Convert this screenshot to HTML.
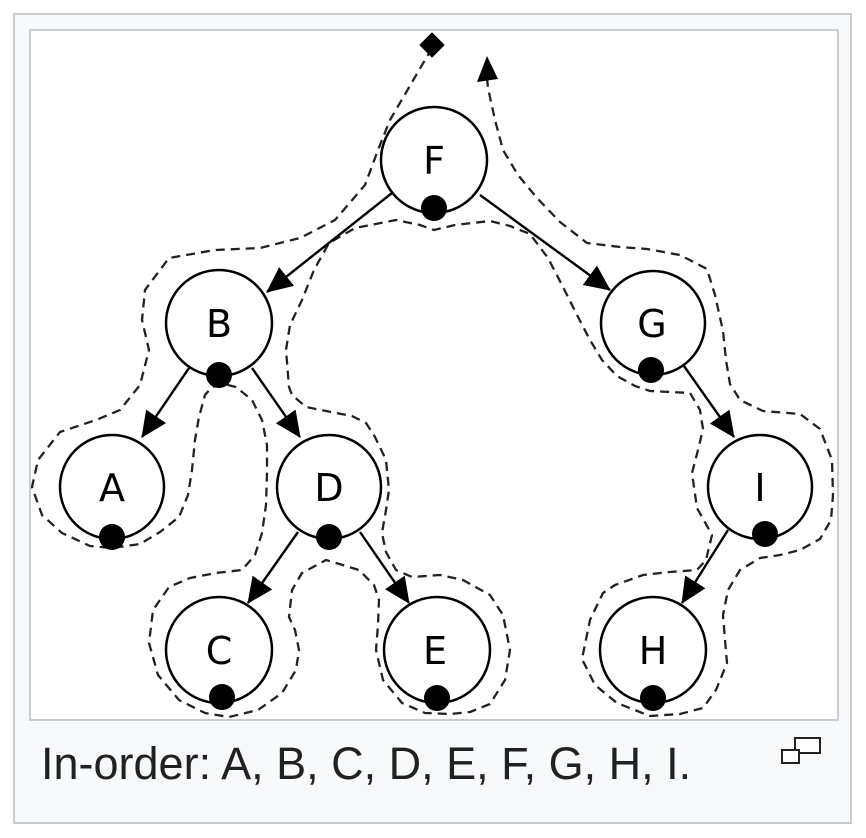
<!DOCTYPE html>
<html><head><meta charset="utf-8"><style>
html,body{margin:0;padding:0;background:#fff;width:866px;height:838px;overflow:hidden}
.outer{position:absolute;left:13px;top:13px;width:839px;height:811px;border:2px solid #c8ccd1;background:#f8f9fa;box-sizing:border-box}
.inner{position:absolute;left:29px;top:29px;width:810px;height:692px;border:2px solid #c8ccd1;background:#fff;box-sizing:border-box}
.cap{position:absolute;left:41px;top:738px;font:45px "Liberation Sans",sans-serif;color:#202122;white-space:nowrap}
</style></head><body>
<div class="outer"></div>
<div class="inner"></div>
<div class="cap">In-order: A, B, C, D, E, F, G, H, I.</div>
<svg style="position:absolute;left:0;top:0" width="866" height="838">
<defs><marker id="ah" markerWidth="26" markerHeight="24" refX="25" refY="12" orient="auto" markerUnits="userSpaceOnUse"><path d="M0,0 L26,12 L0,24 Z" fill="#000"/></marker></defs>
<polyline fill="none" stroke="#222" stroke-width="2.3" stroke-dasharray="9,6" stroke-linejoin="round" points="432,48 418,72 404,96 390,120 378,150 365,185 335,220 300,238 260,248 215,250 169,258 145,290 142,320 149,350 140,385 120,410 96,420 60,432 38,460 32,487 42,515 62,533 90,546 112,548 140,544 160,532 179,517 188,495 192,470 195,440 199,417 205,395 212,387 224,384 236,387 252,400 262,420 267,445 267,473 266,505 262,533 255,555 242,570 216,573 190,578 169,587 153,610 149,643 158,675 179,700 205,713 229,717 258,710 282,693 296,670 299,650 295,630 289,617 292,590 302,573 326,560 359,570 374,585 379,600 378,625 376,650 383,680 402,703 425,713 450,714 470,712 490,704 505,680 510,650 503,615 490,595 463,580 440,575 412,577 396,570 386,552 382,533 386,510 389,490 386,460 375,437 366,423 352,416 336,413 306,407 292,395 289,387 286,350 290,325 302,300 314,270 329,243 355,228 396,220 420,225 434,230 455,225 490,221 510,226 530,234 548,258 563,287 577,315 590,340 602,360 617,376 635,386 650,391 670,392 690,393 700,410 703,429 698,450 692,473 697,508 712,535 706,560 697,570 670,572 643,575 615,585 603,593 590,620 582,659 595,685 617,703 650,716 680,714 703,708 716,690 727,663 725,640 723,615 728,590 740,570 760,558 780,555 800,550 820,539 831,520 833,495 832,460 820,429 800,414 763,411 740,400 730,384 726,360 723,331 715,295 707,269 680,255 647,249 620,247 587,243 560,222 537,198 518,175 503,150 495,120 488,88 487,78"/>
<path d="M487,56 L477,82 L498,79 Z" fill="#000"/>
<rect x="423" y="36" width="18" height="18" fill="#000" transform="rotate(45 432 45)"/>
<g stroke="#000" stroke-width="2.4" marker-end="url(#ah)">
<line x1="392" y1="193" x2="267" y2="292"/>
<line x1="480" y1="195" x2="610" y2="290"/>
<line x1="189" y1="368" x2="142" y2="437"/>
<line x1="252" y1="368" x2="300" y2="437"/>
<line x1="298" y1="532" x2="248" y2="603"/>
<line x1="360" y1="532" x2="409" y2="603"/>
<line x1="684" y1="366" x2="734" y2="437"/>
<line x1="728" y1="530" x2="682" y2="603"/>
</g>
<g fill="#fff" stroke="#000" stroke-width="2.5">
<circle cx="434" cy="160" r="53"/><circle cx="219" cy="323" r="53"/><circle cx="653" cy="323" r="52"/>
<circle cx="112" cy="487" r="52"/><circle cx="329" cy="487" r="52"/><circle cx="760" cy="487" r="52"/>
<circle cx="219" cy="650" r="53"/><circle cx="437" cy="650" r="53"/><circle cx="653" cy="650" r="53"/>
</g>
<g fill="#000">
<circle cx="434" cy="208" r="13"/><circle cx="219" cy="375" r="13"/><circle cx="651" cy="370" r="13"/>
<circle cx="112" cy="537" r="13"/><circle cx="329" cy="537" r="13"/><circle cx="765" cy="534" r="13"/>
<circle cx="222" cy="697" r="13"/><circle cx="437" cy="698" r="13"/><circle cx="653" cy="698" r="13"/>
</g>
<g font-family="DejaVu Sans, sans-serif" font-size="38" text-anchor="middle" fill="#000">
<text x="434" y="174">F</text><text x="219" y="337">B</text><text x="652" y="337">G</text>
<text x="112" y="501">A</text><text x="329" y="501">D</text><text x="760" y="501">I</text>
<text x="219" y="664">C</text><text x="435" y="664">E</text><text x="653" y="664">H</text>
</g>
<g fill="#fff" stroke="#222" stroke-width="2">
<rect x="795" y="738" width="25" height="15"/><rect x="782" y="750" width="17" height="13"/>
</g>
</svg>
</body></html>
